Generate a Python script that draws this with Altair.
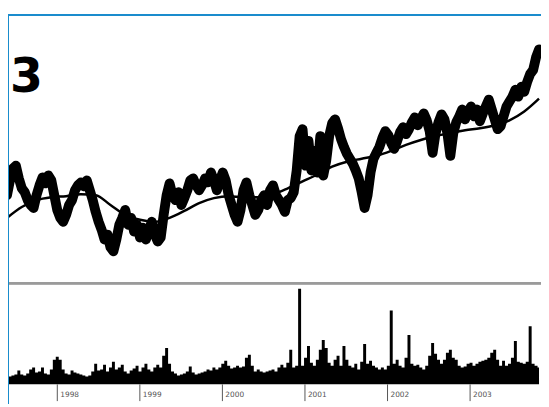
import altair as alt
import pandas as pd

# Sampling grid (decimal years): one sample about every 13 days
START_YEAR = 1997.391
STEP = 0.0358

# Price (centre of the daily high-low band), one value per sample
price = [8.9, 10.4, 11.6, 11.9, 10.6, 9.6, 9.2, 8.4, 7.9, 7.6,
         8.9, 9.9, 10.7, 10.1, 10.9, 10.4, 8.9, 7.4, 6.6, 6.2,
         6.9, 7.9, 8.4, 9.4, 9.9, 10.2, 9.8, 10.4, 9.4, 8.4,
         7.2, 6.2, 5.4, 4.4, 4.9, 3.6, 3.2, 4.4, 5.9, 6.6,
         7.4, 5.9, 6.6, 5.2, 5.9, 4.6, 5.6, 4.4, 5.4, 6.2,
         4.9, 4.2, 4.6, 6.9, 8.9, 10.1, 8.9, 8.4, 9.2, 7.9,
         8.6, 9.4, 10.4, 10.6, 9.9, 9.4, 9.9, 10.6, 10.2, 11.2,
         10.4, 9.4, 10.4, 11.2, 10.4, 8.9, 7.9, 6.9, 6.2, 7.4,
         9.4, 10.2, 8.9, 7.9, 6.9, 7.4, 8.4, 8.9, 7.9, 9.4,
         9.9, 8.9, 8.4, 7.9, 7.2, 8.4, 8.6, 9.2, 11.4, 14.9,
         15.6, 11.9, 14.4, 11.4, 13.4, 11.2, 14.9, 10.9, 12.4, 14.9,
         16.2, 16.6, 15.7, 14.6, 13.8, 13.1, 12.6, 12.1, 11.4, 10.6,
         9.2, 7.6, 8.9, 11.2, 12.6, 13.2, 13.8, 14.7, 15.4, 15.0,
         14.2, 13.6, 14.4, 15.3, 15.8, 15.1, 15.6, 16.3, 16.8, 16.0,
         16.6, 17.2, 16.5, 15.4, 13.2, 15.2, 16.3, 17.1, 16.6, 15.2,
         12.9, 15.2, 16.3, 16.9, 17.6, 16.6, 17.4, 17.9, 16.9, 17.6,
         16.4, 17.2, 17.9, 18.6, 17.6, 16.6, 15.6, 15.9, 16.9, 17.9,
         18.4, 18.9, 19.6, 18.9, 19.9, 19.4, 20.4, 21.2, 21.6, 22.9,
         23.7]

# Moving average, one value every 5 samples
moving_avg = [6.6, 7.7, 8.4, 8.7, 8.8, 9.0, 8.9, 7.9, 6.9, 6.4,
              6.2, 6.6, 7.3, 8.1, 8.6, 8.8, 8.7, 8.7, 9.0, 9.6,
              10.3, 11.0, 11.8, 12.3, 12.6, 12.9, 13.4, 14.0, 14.5, 14.9,
              15.2, 15.5, 15.7, 16.0, 16.5, 17.4, 18.7]

# Volume (millions), one value per sample
volume = [0.7, 0.8, 0.9, 1.0, 1.4, 1.0, 0.9, 1.1, 1.5, 1.7,
          1.2, 1.3, 1.7, 1.1, 1.0, 1.5, 2.5, 2.8, 2.5, 1.5,
          1.1, 1.0, 1.4, 1.2, 1.1, 1.0, 0.9, 0.8, 0.9, 1.3,
          2.1, 1.4, 1.5, 2.0, 1.3, 1.7, 2.3, 1.5, 1.7, 2.0,
          1.3, 1.1, 1.4, 1.6, 1.9, 1.3, 1.7, 2.1, 1.5, 1.3,
          1.7, 2.0, 1.7, 2.9, 3.7, 2.1, 1.3, 1.1, 0.9, 1.0,
          1.1, 1.3, 1.8, 1.2, 1.0, 1.1, 1.2, 1.3, 1.5, 1.4,
          1.7, 1.5, 1.7, 2.1, 2.4, 1.9, 1.6, 1.7, 1.9, 1.7,
          1.8, 2.7, 3.0, 1.9, 1.3, 1.5, 1.3, 1.2, 1.3, 1.4,
          1.5, 1.3, 1.7, 2.0, 1.7, 2.2, 3.5, 1.7, 1.9, 9.7,
          1.9, 2.7, 3.9, 2.2, 1.9, 2.5, 3.5, 4.5, 3.7, 2.2,
          1.9, 2.5, 2.9, 1.9, 3.9, 2.5, 1.9, 1.7, 2.1, 1.5,
          2.3, 4.1, 2.1, 2.4, 1.9, 1.7, 1.5, 1.7, 1.5, 1.9,
          7.5, 2.1, 2.5, 1.9, 1.7, 2.7, 5.0, 2.1, 1.9, 2.0,
          1.7, 1.5, 1.9, 2.9, 4.2, 3.1, 2.5, 2.1, 2.5, 3.2,
          3.5, 2.7, 2.5, 1.9, 1.7, 1.8, 2.1, 2.2, 1.9, 2.1,
          2.3, 2.4, 2.5, 2.7, 3.2, 3.5, 2.5, 1.9, 2.4, 1.9,
          2.1, 2.7, 4.4, 2.3, 2.2, 2.1, 2.3, 5.9, 2.1, 1.9,
          1.7]

tick_years = [1998, 1999, 2000, 2001, 2002, 2003]
panel_label = "3"

price_df = pd.DataFrame({"year": [START_YEAR + STEP * i for i in range(len(price))],
                         "price": price})
ma_df = pd.DataFrame({"year": [START_YEAR + 5 * STEP * i for i in range(len(moving_avg))],
                      "ma": moving_avg})
vol_df = pd.DataFrame({"year": [START_YEAR + STEP * i for i in range(len(volume))],
                       "volume": volume})
tick_df = pd.DataFrame({"year": tick_years, "label": [str(y) for y in tick_years]})

W, H = 541, 399
xscale = alt.Scale(domain=[1997.403, 2003.859], nice=False, zero=False)
pscale = alt.Scale(domain=[0, 27.2], range=[276, 4], nice=False, zero=False)
vscale = alt.Scale(domain=[0, 10.2], range=[379, 277], nice=False, zero=False)

vol_area = alt.Chart(vol_df).mark_area(
    color="black", interpolate="step", opacity=1
).encode(
    x=alt.X("year:Q", scale=xscale, axis=None),
    y=alt.Y("volume:Q", scale=vscale, axis=None),
)

price_line = alt.Chart(price_df).mark_line(
    color="black", strokeWidth=10, strokeJoin="round", strokeCap="round"
).encode(
    x=alt.X("year:Q", scale=xscale, axis=None),
    y=alt.Y("price:Q", scale=pscale, axis=None),
)

ma_line = alt.Chart(ma_df).mark_line(
    color="black", strokeWidth=2.5, interpolate="monotone"
).encode(
    x=alt.X("year:Q", scale=xscale, axis=None),
    y=alt.Y("ma:Q", scale=pscale, axis=None),
)

ticks = alt.Chart(tick_df).mark_rule(color="#555555", strokeWidth=1).encode(
    x=alt.X("year:Q", scale=xscale, axis=None),
    y=alt.value(379),
    y2=alt.value(396),
)

tick_labels = alt.Chart(tick_df).mark_text(
    align="left", baseline="middle", dx=3, fontSize=7.5, color="#555555",
    font="DejaVu Sans"
).encode(
    x=alt.X("year:Q", scale=xscale, axis=None),
    y=alt.value(389.5),
    text="label:N",
)

divider = alt.Chart(tick_df).mark_rule(color="#9a9a9a", strokeWidth=2).encode(
    x=alt.value(0), x2=alt.value(W), y=alt.value(276.5)
)

blue_left = alt.Chart(tick_df).mark_rule(color="#1b8ccc", strokeWidth=1.5).encode(
    x=alt.value(0), y=alt.value(4), y2=alt.value(H)
)
blue_top = alt.Chart(tick_df).mark_rule(color="#1b8ccc", strokeWidth=1.5).encode(
    x=alt.value(0), x2=alt.value(W), y=alt.value(4)
)

big_label = alt.Chart(pd.DataFrame({"t": [panel_label]})).mark_text(
    align="left", baseline="alphabetic", fontSize=48, fontWeight=900,
    font="DejaVu Sans", color="black"
).encode(x=alt.value(2), y=alt.value(82), text="t:N")

chart = alt.layer(
    vol_area, price_line, ma_line, ticks, tick_labels, divider,
    blue_left, blue_top, big_label
).resolve_scale(y="independent").properties(
    width=W, height=H, autosize=alt.AutoSizeParams(type="none"),
    padding=0
).configure_view(stroke=None)

chart.save("out.html", embed_options={"renderer": "svg", "actions": False})
